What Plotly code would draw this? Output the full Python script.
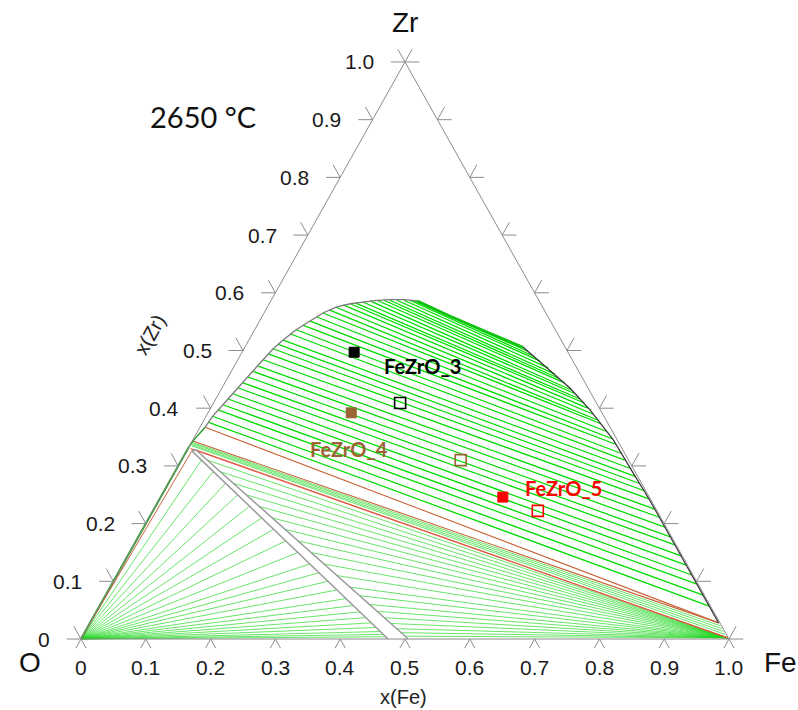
import plotly.graph_objects as go

# compositions are given as (x(Fe), x(Zr)); x(O) = 1 - x(Fe) - x(Zr)

TICK_VALUES = [0.0, 0.1, 0.2, 0.3, 0.4, 0.5, 0.6, 0.7, 0.8, 0.9, 1.0]
TICK_LABELS = ["0", "0.1", "0.2", "0.3", "0.4", "0.5", "0.6", "0.7", "0.8", "0.9", "1.0"]

# liquid miscibility gap boundary
GAP_OX_FE = [0.008, 0.010, 0.016, 0.022, 0.028, 0.033, 0.039, 0.045, 0.053, 0.064,
             0.078, 0.091, 0.106, 0.125, 0.143, 0.163, 0.183, 0.205, 0.226]
GAP_OX_ZR = [0.367, 0.386, 0.406, 0.425, 0.444, 0.464, 0.484, 0.503, 0.518, 0.536,
             0.551, 0.565, 0.575, 0.581, 0.584, 0.587, 0.588, 0.588, 0.586]
GAP_TOP_FE = [0.226, 0.289, 0.366, 0.429]
GAP_TOP_ZR = [0.586, 0.560, 0.530, 0.506]
GAP_MET_FE = [0.429, 0.483, 0.537, 0.587, 0.649, 0.708, 0.757, 0.797, 0.850, 0.898, 0.940, 0.970]
GAP_MET_ZR = [0.506, 0.471, 0.435, 0.397, 0.345, 0.288, 0.241, 0.201, 0.148, 0.100, 0.058, 0.028]

# tie-lines across the gap: oxide-rich end -> metal-rich end
TIE_OX_FE = [0.008, 0.010, 0.013, 0.016, 0.019, 0.022, 0.025, 0.028, 0.031, 0.033, 0.037, 0.039,
             0.042, 0.045, 0.048, 0.053, 0.058, 0.064, 0.070, 0.078, 0.085, 0.091, 0.099, 0.106,
             0.115, 0.125, 0.133, 0.143, 0.153, 0.163, 0.174, 0.183, 0.194, 0.205, 0.214, 0.221]
TIE_OX_ZR = [0.376, 0.386, 0.397, 0.406, 0.416, 0.425, 0.435, 0.444, 0.454, 0.464, 0.473, 0.484,
             0.494, 0.503, 0.511, 0.518, 0.529, 0.536, 0.544, 0.551, 0.558, 0.565, 0.570, 0.575,
             0.579, 0.581, 0.582, 0.584, 0.586, 0.587, 0.587, 0.587, 0.587, 0.587, 0.587, 0.586]
TIE_MET_FE = [0.941, 0.922, 0.903, 0.887, 0.870, 0.854, 0.835, 0.821, 0.804, 0.787, 0.773, 0.755,
              0.741, 0.726, 0.714, 0.699, 0.684, 0.672, 0.655, 0.646, 0.630, 0.616, 0.606, 0.595,
              0.582, 0.572, 0.562, 0.548, 0.540, 0.524, 0.511, 0.502, 0.486, 0.467, 0.454, 0.440]
TIE_MET_ZR = [0.057, 0.076, 0.095, 0.111, 0.128, 0.144, 0.163, 0.177, 0.194, 0.211, 0.225, 0.243,
              0.257, 0.270, 0.282, 0.296, 0.310, 0.322, 0.338, 0.347, 0.360, 0.373, 0.380, 0.390,
              0.400, 0.409, 0.416, 0.426, 0.432, 0.444, 0.452, 0.459, 0.470, 0.482, 0.490, 0.499]

# oxide liquid band (ZrO2 - FeO side)
BAND_LEFT_FE = [0.008, 0.474]
BAND_LEFT_ZR = [0.326, 0.0]
BAND_RIGHT_FE = [0.013, 0.505]
BAND_RIGHT_ZR = [0.328, 0.0]

# tie-lines O corner -> oxide liquid
O_FAN_FE = [0.031, 0.059, 0.088, 0.117, 0.145, 0.174, 0.202, 0.231, 0.260, 0.288, 0.310,
            0.331, 0.352, 0.374, 0.391, 0.407, 0.421, 0.434, 0.445, 0.455, 0.462, 0.468]
O_FAN_ZR = [0.310, 0.290, 0.270, 0.250, 0.230, 0.210, 0.190, 0.170, 0.150, 0.130, 0.115,
            0.100, 0.085, 0.070, 0.058, 0.047, 0.037, 0.028, 0.020, 0.013, 0.008, 0.004]

# tie-lines oxide liquid -> Fe-rich liquid
FE_FAN_FE = [0.040, 0.070, 0.100, 0.130, 0.160, 0.190, 0.220, 0.250, 0.280, 0.310,
             0.340, 0.370, 0.393, 0.415, 0.433, 0.450, 0.465, 0.478, 0.489, 0.498]
FE_FAN_ZR = [0.310, 0.290, 0.270, 0.250, 0.230, 0.210, 0.190, 0.170, 0.150, 0.130,
             0.110, 0.090, 0.075, 0.060, 0.048, 0.037, 0.027, 0.018, 0.011, 0.005]

# ZrO2 + liquid tie-lines
ZRO2_FE = [0.001, 0.002, 0.002, 0.003]
ZRO2_ZR = [0.341, 0.339, 0.337, 0.335]
ZRO2_LIQ_FE = [0.975, 0.980, 0.985, 0.990]
ZRO2_LIQ_ZR = [0.023, 0.018, 0.013, 0.008]

# invariant points of the three-phase triangles
P_O = (0.0, 0.0)
P_ZRO2 = (0.0, 0.333)
P_ZRO2_RICH = (0.001, 0.343)
P_ZRO2_LOW = (0.004, 0.330)
P_L_OX = (0.008, 0.367)
P_L_MET = (0.970, 0.028)
P_L_FE = (0.997, 0.002)
P_BAND_L = (0.008, 0.326)
P_BAND_R = (0.013, 0.328)

# samples
SAMPLES = ["FeZrO_3", "FeZrO_4", "FeZrO_5"]
SAMPLE_COLORS = ["#000000", "#9a6434", "#ff0000"]
NOMINAL_FE = [0.173, 0.221, 0.528]
NOMINAL_ZR = [0.497, 0.392, 0.246]
MEASURED_FE = [0.288, 0.431, 0.594]
MEASURED_ZR = [0.409, 0.310, 0.222]
LABEL_FE = [0.291, 0.249, 0.613]
LABEL_ZR = [0.473, 0.329, 0.262]

GREEN = "#00dc00"
LIGHT_GREEN = "rgba(30,215,30,0.75)"
BROWN = "#c8643a"
RED = "#ff4a4a"
FRAME = "#8c8c8c"
TICK_FONT = "Liberation Sans, Arial, sans-serif"
LABEL_FONT = "Lato, Noto Sans, sans-serif"


def xy(fe, zr):
    return fe + zr / 2.0, zr


def polyline(fe, zr):
    xs, ys = [], []
    for a, b in zip(fe, zr):
        x, y = xy(a, b)
        xs.append(x)
        ys.append(y)
    return xs, ys


def segments(fe0, zr0, fe1, zr1):
    xs, ys = [], []
    for a, b, c, d in zip(fe0, zr0, fe1, zr1):
        x0, y0 = xy(a, b)
        x1, y1 = xy(c, d)
        xs += [x0, x1, None]
        ys += [y0, y1, None]
    return xs, ys


def fan(point, fe, zr):
    return segments([point[0]] * len(fe), [point[1]] * len(zr), fe, zr)


def add_lines(fig, xs, ys, color, width):
    fig.add_trace(go.Scatter(x=xs, y=ys, mode="lines", line=dict(color=color, width=width),
                             hoverinfo="skip", showlegend=False))


def main():
    fig = go.Figure()

    # fans / tie-lines
    add_lines(fig, *fan(P_O, O_FAN_FE, O_FAN_ZR), LIGHT_GREEN, 0.9)
    add_lines(fig, *fan(P_L_FE, FE_FAN_FE, FE_FAN_ZR), LIGHT_GREEN, 0.9)
    add_lines(fig, *segments(ZRO2_FE, ZRO2_ZR, ZRO2_LIQ_FE, ZRO2_LIQ_ZR), LIGHT_GREEN, 0.9)
    add_lines(fig, *segments(TIE_OX_FE, TIE_OX_ZR, TIE_MET_FE, TIE_MET_ZR), GREEN, 1.25)

    # O - ZrO2 edge (three-phase)
    add_lines(fig, *polyline([P_O[0], P_ZRO2[0]], [P_O[1], P_ZRO2[1]]), "#129a12", 2)
    add_lines(fig, *polyline([P_O[0], P_BAND_L[0]], [P_O[1], P_BAND_L[1]]), BROWN, 1)

    # three-phase triangle edges
    add_lines(fig, *polyline([P_L_OX[0], P_L_MET[0]], [P_L_OX[1], P_L_MET[1]]), BROWN, 1.1)
    add_lines(fig, *polyline([P_ZRO2_RICH[0], P_L_MET[0]], [P_ZRO2_RICH[1], P_L_MET[1]]), BROWN, 1.1)
    add_lines(fig, *polyline([P_ZRO2_LOW[0], P_L_FE[0]], [P_ZRO2_LOW[1], P_L_FE[1]]), RED, 1.1)
    add_lines(fig, *polyline([P_BAND_R[0], P_L_FE[0]], [P_BAND_R[1], P_L_FE[1]]), BROWN, 0.9)
    add_lines(fig, *polyline([P_L_OX[0], P_ZRO2_RICH[0], P_ZRO2[0]],
                             [P_L_OX[1], P_ZRO2_RICH[1], P_ZRO2[1]]), "#2a9a2a", 1.5)

    # oxide liquid band
    add_lines(fig, *polyline(BAND_LEFT_FE, BAND_LEFT_ZR), "#9a9a9a", 1.5)
    add_lines(fig, *polyline(BAND_RIGHT_FE, BAND_RIGHT_ZR), "#9a9a9a", 1.5)
    add_lines(fig, *polyline([BAND_LEFT_FE[0], BAND_RIGHT_FE[0]],
                             [BAND_LEFT_ZR[0], BAND_RIGHT_ZR[0]]), "#9a9a9a", 1.5)

    # miscibility gap boundary
    add_lines(fig, *polyline(GAP_OX_FE, GAP_OX_ZR), "#7a7a7a", 1.3)
    add_lines(fig, *polyline(GAP_TOP_FE, GAP_TOP_ZR), "#0fc00f", 2.5)
    add_lines(fig, *polyline(GAP_MET_FE, GAP_MET_ZR), "#333333", 1.2)

    # triangle frame
    add_lines(fig, *polyline([0, 1, 0, 0], [0, 0, 1, 0]), FRAME, 1)

    # ticks
    t, tb = 0.022, 0.016
    tick_fe0, tick_zr0, tick_fe1, tick_zr1 = [], [], [], []
    for v in TICK_VALUES:
        # left edge (Fe = 0)
        tick_fe0 += [0, 0]
        tick_zr0 += [v, v]
        tick_fe1 += [-t, -t]
        tick_zr1 += [v, v + t]
        # right edge (O = 0)
        tick_fe0 += [1 - v, 1 - v]
        tick_zr0 += [v, v]
        tick_fe1 += [1 - v + t, 1 - v]
        tick_zr1 += [v, v + t]
        # bottom edge (Zr = 0)
        tick_fe0 += [v, v]
        tick_zr0 += [0, 0]
        tick_fe1 += [v, v + tb]
        tick_zr1 += [-tb, -tb]
    add_lines(fig, *segments(tick_fe0, tick_zr0, tick_fe1, tick_zr1), FRAME, 1)

    annotations = []
    for v, lab in zip(TICK_VALUES, TICK_LABELS):
        x, y = xy(0, v)
        annotations.append(dict(x=x - 0.045, y=y, text=lab, xanchor="right", yanchor="middle",
                                showarrow=False, font=dict(family=TICK_FONT, size=21, color="#1a1a1a")))
        x, y = xy(v, 0)
        annotations.append(dict(x=x, y=y - 0.05, text=lab, xanchor="center", yanchor="middle",
                                showarrow=False, font=dict(family=TICK_FONT, size=21, color="#1a1a1a")))

    # samples
    for name, color, fn, zn, fm, zm, fl, zl in zip(SAMPLES, SAMPLE_COLORS, NOMINAL_FE, NOMINAL_ZR,
                                                    MEASURED_FE, MEASURED_ZR, LABEL_FE, LABEL_ZR):
        x, y = xy(fn, zn)
        fig.add_trace(go.Scatter(x=[x], y=[y], mode="markers", name=name, showlegend=False,
                                 marker=dict(symbol="square", size=10, color=color,
                                             line=dict(color=color, width=1))))
        x, y = xy(fm, zm)
        fig.add_trace(go.Scatter(x=[x], y=[y], mode="markers", name=name, showlegend=False,
                                 marker=dict(symbol="square-open", size=11, color=color,
                                             line=dict(color=color, width=1.6))))
        x, y = xy(fl, zl)
        annotations.append(dict(x=x, y=y, text=f"<b>{name}</b>", showarrow=False,
                                font=dict(family=LABEL_FONT, size=20, color=color)))

    annotations += [
        dict(x=0.5, y=1.069, text="Zr", showarrow=False,
             font=dict(family=TICK_FONT, size=28, color="#111")),
        dict(x=-0.079, y=-0.04, text="O", showarrow=False,
             font=dict(family=TICK_FONT, size=28, color="#111")),
        dict(x=1.079, y=-0.04, text="Fe", showarrow=False,
             font=dict(family=TICK_FONT, size=28, color="#111")),
        dict(x=0.497, y=-0.1005, text="x(Fe)", showarrow=False,
             font=dict(family=TICK_FONT, size=20, color="#222")),
        dict(x=0.106, y=0.527, text="x(Zr)", showarrow=False, textangle=-61,
             font=dict(family=TICK_FONT, size=20, color="#222")),
        dict(x=0.188, y=0.905, text="2650 °C", showarrow=False,
             font=dict(family=LABEL_FONT, size=29, color="#111")),
    ]

    fig.update_xaxes(visible=False, range=[-0.125, 1.1065])
    fig.update_yaxes(visible=False, range=[-0.123, 1.1074])
    fig.update_layout(
        width=798, height=710,
        margin=dict(l=0, r=0, t=0, b=0),
        paper_bgcolor="white", plot_bgcolor="white",
        annotations=annotations,
        showlegend=False,
    )
    # drop the browser's default body margin so the figure fills the window
    fig.write_html("out.html", config={"displayModeBar": False},
                   post_script="document.body.style.margin='0';document.body.style.overflow='hidden';")


if __name__ == "__main__":
    main()
